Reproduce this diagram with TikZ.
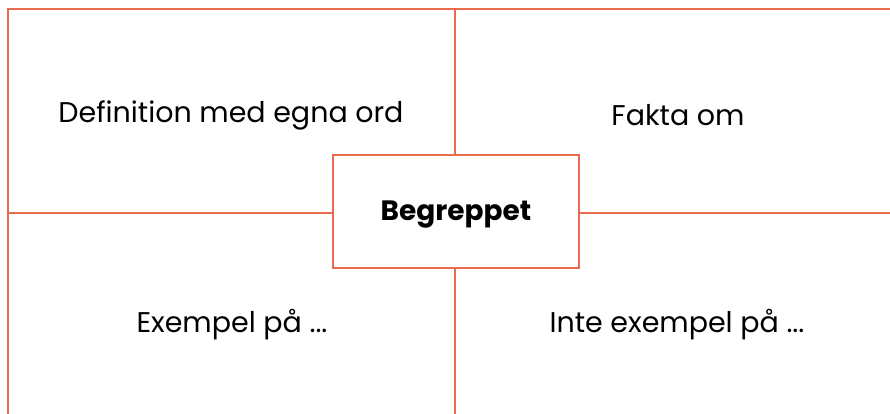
\documentclass[tikz,border=0pt]{standalone}
\usepackage{fontspec}
\setmainfont{Poppins}
\usetikzlibrary{positioning}
\definecolor{koral}{RGB}{236,106,78}

\begin{document}
\begin{tikzpicture}[x=1pt,y=-1pt,
line/.style={draw=koral, line width=2pt},
centerbox/.style={
  rectangle, draw=koral, line width=2pt, fill=white,
  minimum width=246pt, minimum height=113pt,
  text height=18pt, text depth=0pt,
  inner sep=0pt, font=\fontsize{28}{32}\selectfont\bfseries
},
celltext/.style={font=\fontsize{28.5}{32}\selectfont}
]
\useasboundingbox (0,0) rectangle (890,414);
\coordinate (topleft) at (8,9);
\coordinate (topright) at (890,9);
\coordinate (botleft) at (8,414);
\coordinate (midtop) at (455,9);
\coordinate (midbot) at (455,414);
\coordinate (midleft) at (8,213);
\coordinate (midright) at (890,213);
\node (begrepp) [centerbox] at (456,211.5) {Begreppet};
% ram och korslinjer
\draw[line] (botleft) -- (topleft) -- (topright);
\draw[line] (midtop) -- (begrepp.north -| midtop);
\draw[line] (begrepp.south -| midbot) -- (midbot);
\draw[line] (midleft) -- (begrepp.west |- midleft);
\draw[line] (begrepp.east |- midright) -- (midright);
% texter i rutorna
\node (definition) [celltext] at (231,115) {Definition med egna ord};
\node (fakta) [celltext] at (678,115) {Fakta om};
\node (exempel) [celltext] at (232,325) {Exempel på ...};
\node (inteexempel) [celltext] at (677,325) {Inte exempel på ...};
\end{tikzpicture}
\end{document}
